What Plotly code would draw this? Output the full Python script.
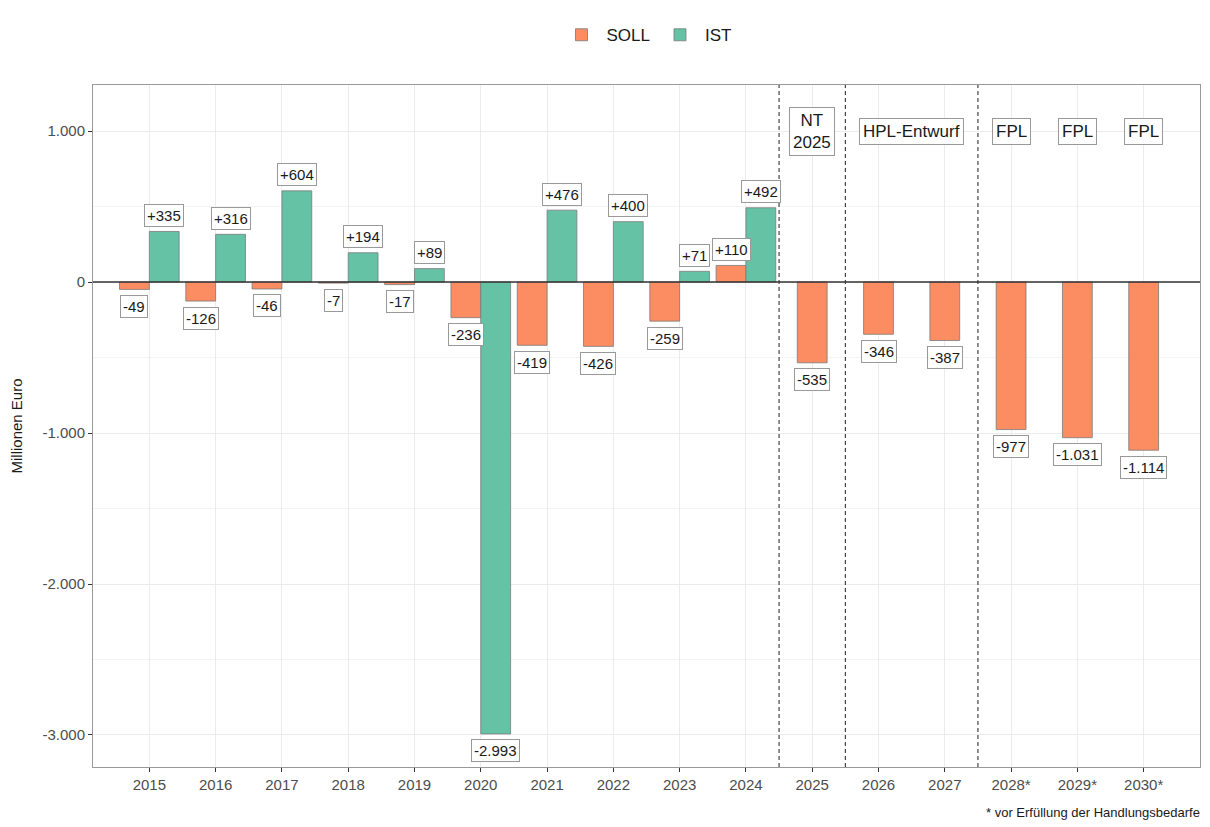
import plotly.graph_objects as go

years = ["2015", "2016", "2017", "2018", "2019", "2020", "2021", "2022", "2023",
         "2024", "2025", "2026", "2027", "2028*", "2029*", "2030*"]
soll = [-49, -126, -46, -7, -17, -236, -419, -426, -259, 110, -535, -346, -387, -977, -1031, -1114]
ist = [335, 316, 604, 194, 89, -2993, 476, 400, 71, 492]
phase_labels = ["NT<br>2025", "HPL-Entwurf", "FPL", "FPL", "FPL"]
phase_pos = [10, 11.5, 13, 14, 15]
phase_y = [1000, 1000, 1000, 1000, 1000]
separators_at = [9.5, 10.5, 12.5]
ytick_vals = [1000, 0, -1000, -2000, -3000]
ytick_text = ["1.000", "0", "-1.000", "-2.000", "-3.000"]

SOLL_C = "#FC8D62"
IST_C = "#66C2A5"
W = 0.45
FONT = "Liberation Sans, Arial, Helvetica, sans-serif"


def fmt(v):
    s = f"{abs(v):,}".replace(",", ".")
    return ("+" if v > 0 else "-") + s


n_ist = len(ist)
soll_offset = [-W if i < n_ist else -W / 2 for i in range(len(years))]

fig = go.Figure()
fig.add_trace(go.Bar(
    x=years, y=soll, name="SOLL", marker=dict(color=SOLL_C, line=dict(color="#7a7a7a", width=0.8)),
    width=W, offset=soll_offset, hoverinfo="x+y"))
fig.add_trace(go.Bar(
    x=years[:n_ist], y=ist, name="IST", marker=dict(color=IST_C, line=dict(color="#7a7a7a", width=0.8)),
    width=W, offset=0, hoverinfo="x+y"))

annotations = []


def label(xc, v):
    annotations.append(dict(
        x=xc, y=v, xref="x", yref="y", text=fmt(v), showarrow=False,
        yshift=16 if v > 0 else -17,
        font=dict(family=FONT, size=15, color="#1a1a1a"),
        bgcolor="white", bordercolor="#999999", borderwidth=1, borderpad=2))


for i, v in enumerate(soll):
    label(i + soll_offset[i] + W / 2, v)
for i, v in enumerate(ist):
    label(i + W / 2, v)

for xp, yp, t in zip(phase_pos, phase_y, phase_labels):
    annotations.append(dict(
        x=xp, y=yp, xref="x", yref="y", text=t, showarrow=False,
        font=dict(family=FONT, size=17, color="#1a1a1a"),
        bgcolor="white", bordercolor="#999999", borderwidth=1, borderpad=3))

annotations.append(dict(
    x=1.0, y=0, xref="paper", yref="paper", xanchor="right", yanchor="middle", yshift=-45, xshift=2,
    text="* vor Erfüllung der Handlungsbedarfe", showarrow=False,
    font=dict(family=FONT, size=13, color="#1a1a1a")))

shapes = []
for xs in separators_at:
    shapes.append(dict(type="line", xref="x", yref="paper", x0=xs, x1=xs, y0=0, y1=1,
                       line=dict(color="#333333", width=1.1, dash="4px,3px")))
shapes.append(dict(type="line", xref="paper", yref="y", x0=0, x1=1, y0=0, y1=0,
                   line=dict(color="#333333", width=1.6)))

fig.update_layout(
    width=1210, height=827,
    barmode="overlay",
    plot_bgcolor="white", paper_bgcolor="white",
    margin=dict(l=85, r=18, t=77, b=68, autoexpand=False),
    font=dict(family=FONT, size=14, color="#4d4d4d"),
    legend=dict(orientation="h", x=0.5, xanchor="center", y=1.073, yanchor="middle",
                font=dict(size=17, color="#1a1a1a"), itemwidth=40, traceorder="normal"),
    annotations=annotations, shapes=shapes,
    xaxis=dict(range=[-0.85, 15.85], showgrid=True, gridcolor="#ebebeb", gridwidth=1, automargin=False,
               ticks="outside", ticklen=4, tickcolor="#333333", showline=True, linecolor="#999999",
               mirror=True, tickfont=dict(size=15, color="#4d4d4d")),
    yaxis=dict(range=[-3212, 1305], tickvals=ytick_vals, ticktext=ytick_text, automargin=False,
               showgrid=True, gridcolor="#ebebeb", gridwidth=1, zeroline=False,
               minor=dict(tickvals=[500, -500, -1500, -2500], showgrid=True, gridcolor="#f4f4f4", ticks=""),
               ticks="outside", ticklen=4, tickcolor="#333333", showline=True, linecolor="#999999",
               mirror=True, tickfont=dict(size=15, color="#4d4d4d"),
               title=dict(text="Millionen Euro", font=dict(size=15, color="#1a1a1a"), standoff=16)),
)

fig.write_html("out.html")
